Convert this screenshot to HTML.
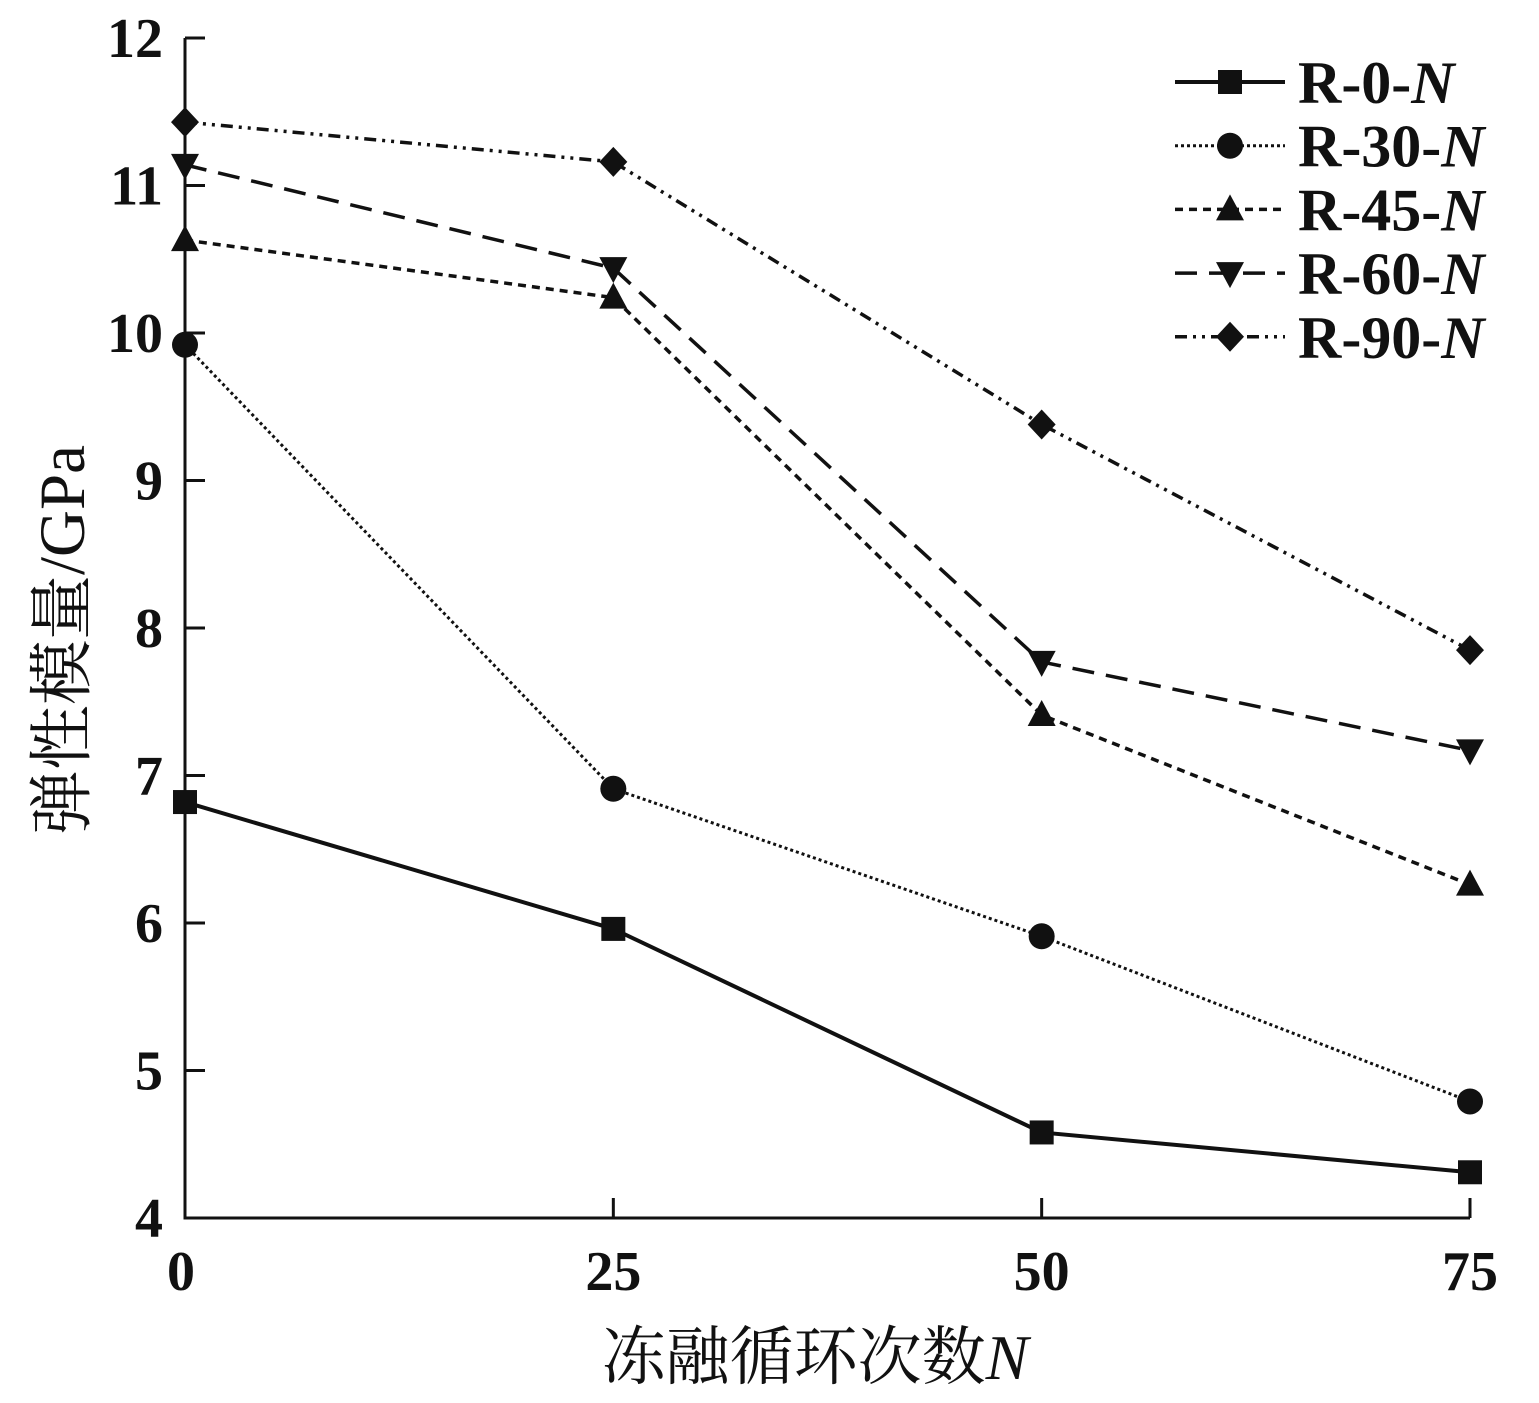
<!DOCTYPE html>
<html><head><meta charset="utf-8"><style>
body{margin:0;background:#fff}
svg text{font-family:"Liberation Serif","Noto Serif CJK SC",serif;fill:#111}
</style></head><body>
<svg id="chart" width="1539" height="1398" viewBox="0 0 1539 1398" xmlns="http://www.w3.org/2000/svg"></svg>
<script>
const categories=[0,25,50,75];
const yTicks=[4,5,6,7,8,9,10,11,12];
const seriesNames=["R-0-","R-30-","R-45-","R-60-","R-90-"];
const r0=[6.82,5.96,4.58,4.31];
const r30=[9.92,6.91,5.91,4.79];
const r45=[10.63,10.24,7.41,6.26];
const r60=[11.14,10.44,7.77,7.17];
const r90=[11.43,11.16,9.38,7.85];
const allSeries=[r0,r30,r45,r60,r90];
const styles=[{d:"",w:4,m:"square"},{d:"3 3",w:3,m:"circle"},{d:"8 6",w:3.5,m:"up"},{d:"22 12",w:3.5,m:"down"},{d:"12 6 3 6 3 6",w:3.5,m:"diamond"}];
const X0=185,X1=1470,Y0=1218,Y1=38;
const xs=v=>X0+(v-0)/75*(X1-X0);
const ys=v=>Y0-(v-4)/8*(Y0-Y1);
const svg=document.getElementById('chart');
const NS="http://www.w3.org/2000/svg";
function el(t,a,p){const e=document.createElementNS(NS,t);for(const k in a)e.setAttribute(k,a[k]);(p||svg).appendChild(e);return e;}
function marker(type,x,y,g){
 let e;
 if(type==="square")e=el('rect',{x:x-12,y:y-12,width:24,height:24,fill:'#111'},g);
 else if(type==="circle")e=el('circle',{cx:x,cy:y,r:13,fill:'#111'},g);
 else if(type==="up")e=el('polygon',{points:`${x},${y-15} ${x+14},${y+11} ${x-14},${y+11}`,fill:'#111'},g);
 else if(type==="down")e=el('polygon',{points:`${x},${y+15} ${x+14},${y-11} ${x-14},${y-11}`,fill:'#111'},g);
 else e=el('polygon',{points:`${x},${y-15} ${x+14},${y} ${x},${y+15} ${x-14},${y}`,fill:'#111'},g);
 
 
}
const ax=el('path',{d:`M${X0},${Y1} V${Y0} H${X1}`,stroke:'#111','stroke-width':3,fill:'none'});


yTicks.forEach(t=>{
 const y=ys(t);
 const tk=el('line',{x1:X0,x2:X0+20,y1:y,y2:y,stroke:'#111','stroke-width':3});
 
 
 const tx=el('text',{x:163,y:y+19,'text-anchor':'end','font-size':56,'font-weight':'bold'});
 tx.textContent=t;
 
 
});
categories.forEach(c=>{
 const x=xs(c);
 const tk=el('line',{x1:x,x2:x,y1:Y0,y2:Y0-20,stroke:'#111','stroke-width':3});
 
 
 const tx=el('text',{x:x+(c===0?-4:0),y:1290,'text-anchor':'middle','font-size':56,'font-weight':'bold'});
 tx.textContent=c;
 
 
});
const xt=el('text',{x:815,y:1379,'text-anchor':'middle','font-size':64});
xt.innerHTML='冻融循环次数<tspan font-style="italic">N</tspan>';


const yt=el('text',{x:0,y:0,'text-anchor':'middle','font-size':65,transform:'translate(84,640) rotate(-90)'});
yt.textContent='弹性模量/GPa';


allSeries.forEach((s,i)=>{
 const st=styles[i];
 const g=el('g',{});
 
 
 const pts=s.map((v,j)=>`${xs(categories[j])},${ys(v)}`).join(' ');
 const l=el('polyline',{points:pts,fill:'none',stroke:'#111','stroke-width':st.w,'stroke-dasharray':st.d},g);
 
 
 s.forEach((v,j)=>marker(st.m,xs(categories[j]),ys(v),g));
 const ly=82+i*63.7;
 const lg=el('g',{});
 
 
 el('line',{x1:1175,x2:1285,y1:ly,y2:ly,stroke:'#111','stroke-width':st.w,'stroke-dasharray':st.d},lg);
 marker(st.m,1230,ly,lg);
 const t=el('text',{x:1298,y:ly+21,'font-size':60,'font-weight':'bold'},lg);
 t.innerHTML=seriesNames[i]+'<tspan font-style="italic">N</tspan>';
});
</script>
</body></html>
